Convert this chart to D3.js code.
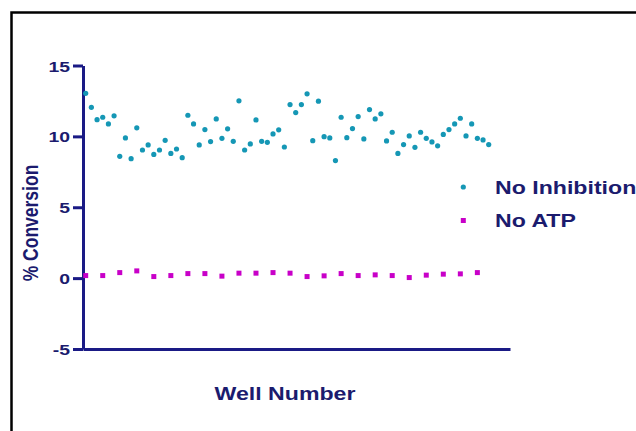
<!DOCTYPE html>
<html>
<head>
<meta charset="utf-8">
<script src="https://cdn.jsdelivr.net/npm/d3@7"></script>
<style>
  html, body { margin: 0; padding: 0; background: #fff; }
  svg { display: block; }
  text { font-family: "Liberation Sans", Arial, Helvetica, sans-serif; font-weight: bold; fill: #1b1b6e; }
</style>
</head>
<body>
<svg id="chart" width="636" height="431"></svg>
<script>
// Percent conversion per well, wells 1..72
const wells = d3.range(1, 73);
const noInhibition = [
  13.04, 12.05, 11.18, 11.35, 10.88, 11.45, 8.59, 9.89, 8.43, 10.60,
  9.04, 9.40, 8.73, 9.04, 9.72, 8.80, 9.11, 8.50, 11.49, 10.88,
  9.40, 10.48, 9.63, 11.23, 9.86, 10.53, 9.65, 12.51, 9.04, 9.47,
  11.16, 9.65, 9.58, 10.17, 10.46, 9.25, 12.24, 11.68, 12.24, 13.00,
  9.70, 12.48, 9.98, 9.89, 8.29, 11.35, 9.91, 10.55, 11.40, 9.82,
  11.89, 11.23, 11.59, 9.68, 10.29, 8.80, 9.42, 10.03, 9.23, 10.29,
  9.86, 9.61, 9.33, 10.14, 10.48, 10.88, 11.28, 10.03, 10.88, 9.86,
  9.75, 9.42
];
// No-ATP control wells: every third well starting at well 1
const atpWells = d3.range(1, 71, 3);
const noATP = [
  0.18, 0.18, 0.39, 0.51, 0.11, 0.18, 0.32, 0.32, 0.14, 0.35,
  0.35, 0.39, 0.35, 0.11, 0.16, 0.32, 0.18, 0.23, 0.18, 0.04,
  0.21, 0.28, 0.30, 0.39
];
const yTicks = [-5, 0, 5, 10, 15];
const seriesNames = ["No Inhibition", "No ATP"];

const navy = "#1a1a85";
const teal = "#1597b5";
const magenta = "#c800c8";
const stretch = 1.25; // horizontal stretch of lettering

const svg = d3.select("#chart");

// outer frame
svg.append("path")
  .attr("d", "M11.5,440V12.5H650")
  .attr("fill", "none")
  .attr("stroke", "#000")
  .attr("stroke-width", 2.5);

const x = d3.scaleLinear().domain([0.525, 75.75]).range([83, 510]);
const y = d3.scaleLinear().domain([-5, 15]).range([349, 65.5]);

// y axis
const yAxis = svg.append("g")
  .attr("transform", `translate(${x.range()[0]},0)`)
  .call(d3.axisLeft(y).tickValues(yTicks).tickFormat(d => String(d))
    .tickSize(10).tickSizeOuter(0).tickPadding(3));
yAxis.select(".domain").attr("stroke", navy).attr("stroke-width", 3);
yAxis.selectAll(".tick line").attr("stroke", navy).attr("stroke-width", 3);
yAxis.selectAll(".tick text")
  .attr("font-size", 15.5)
  .attr("fill", "#1b1b6e")
  .attr("x", null)
  .attr("dy", null)
  .attr("text-anchor", "end")
  .attr("transform", "translate(-13,5.5) scale(" + stretch + ",1)");

// x axis (no ticks)
const xAxis = svg.append("g")
  .attr("transform", `translate(0,${y(-5)})`)
  .call(d3.axisBottom(x).tickValues([]).tickSizeOuter(0));
xAxis.select(".domain").attr("stroke", navy).attr("stroke-width", 3);

// No Inhibition points
svg.append("g").selectAll("circle")
  .data(wells)
  .join("circle")
  .attr("cx", d => x(d))
  .attr("cy", (d, i) => y(noInhibition[i]))
  .attr("r", 2.6)
  .attr("fill", teal);

// No ATP points
const sq = 5;
svg.append("g").selectAll("rect")
  .data(atpWells)
  .join("rect")
  .attr("x", d => x(d) - sq / 2)
  .attr("y", (d, i) => y(noATP[i]) - sq / 2)
  .attr("width", sq)
  .attr("height", sq)
  .attr("fill", magenta);

// axis titles
svg.append("text")
  .attr("transform", `translate(38,223) scale(${stretch},1) rotate(-90)`)
  .attr("text-anchor", "middle")
  .attr("font-size", 17.5)
  .text("% Conversion");

svg.append("text")
  .attr("transform", `translate(285,400) scale(${stretch},1)`)
  .attr("text-anchor", "middle")
  .attr("font-size", 18.5)
  .text("Well Number");

// legend
const legend = svg.append("g");
const legendRows = [
  { name: seriesNames[0], cy: 187, type: "circle" },
  { name: seriesNames[1], cy: 220.5, type: "square" }
];
legendRows.forEach(r => {
  if (r.type === "circle") {
    legend.append("circle").attr("cx", 463.3).attr("cy", r.cy).attr("r", 2.6).attr("fill", teal);
  } else {
    legend.append("rect").attr("x", 463.3 - sq / 2).attr("y", r.cy - sq / 2)
      .attr("width", sq).attr("height", sq).attr("fill", magenta);
  }
  legend.append("text")
    .attr("transform", `translate(495,${r.cy + 6.8}) scale(${stretch},1)`)
    .attr("font-size", 18.5)
    .text(r.name);
});
</script>
</body>
</html>
